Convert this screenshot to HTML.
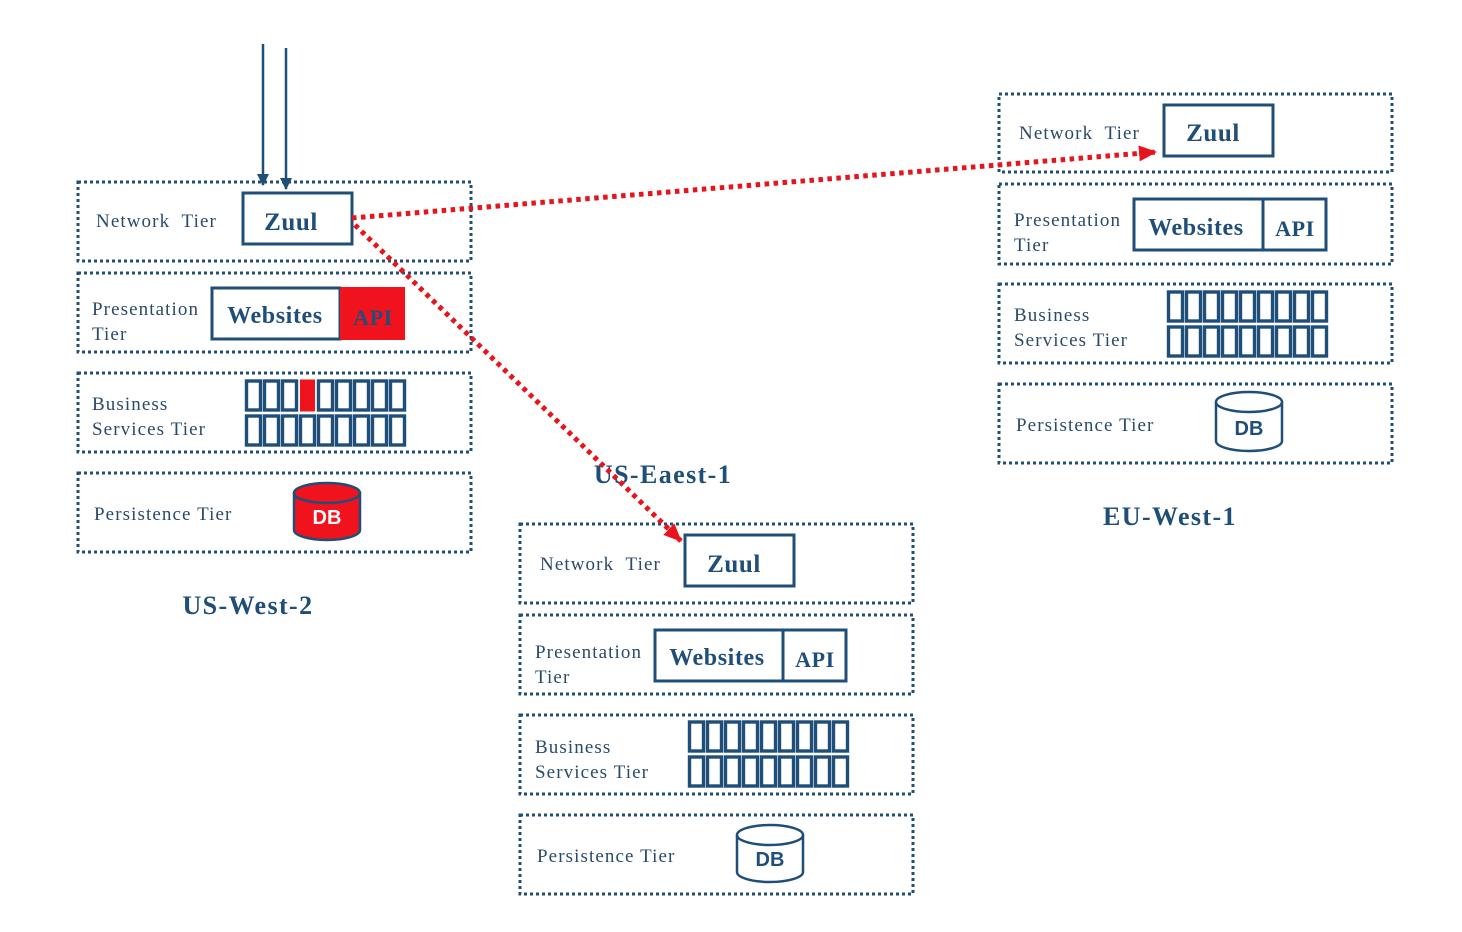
<!DOCTYPE html>
<html><head><meta charset="utf-8"><style>
html,body{margin:0;padding:0;background:#fff;}
svg{display:block;}
.tb{fill:none;stroke:#1f4e79;stroke-width:3;stroke-dasharray:3 3;}
.bx{fill:#fff;stroke:#1f4e79;stroke-width:3;}
.lbl{font-family:"Liberation Serif",serif;font-size:19px;fill:#2a4a6a;letter-spacing:1.1px;white-space:pre;}
.bold{font-family:"Liberation Serif",serif;font-weight:bold;fill:#1f4e79;letter-spacing:0.6px;}
.ttl{letter-spacing:1.4px;}
.cell{fill:none;stroke:#1f4e79;stroke-width:3.4;}
.db{font-family:"Liberation Sans",sans-serif;font-weight:bold;font-size:20px;}
</style></head><body>
<svg width="1462" height="932" viewBox="0 0 1462 932" xmlns="http://www.w3.org/2000/svg">
<defs>
<marker id="ab" markerWidth="12" markerHeight="12" refX="11" refY="6" orient="auto" markerUnits="userSpaceOnUse"><path d="M0,0 L12,6 L0,12z" fill="#1f4e79"/></marker>
<marker id="ar" markerWidth="18" markerHeight="16" refX="17" refY="8" orient="auto" markerUnits="userSpaceOnUse"><path d="M0,0 L18,8 L0,16z" fill="#e8141c"/></marker>
</defs>

<!-- US-West-2 -->
<g transform="translate(78,182)">
<rect class="tb" x="0" y="0" width="393" height="79"/>
<rect class="tb" x="0" y="91" width="393" height="79"/>
<rect class="tb" x="0" y="191" width="393" height="79"/>
<rect class="tb" x="0" y="291" width="393" height="79"/>
<text class="lbl" x="18" y="45">Network  Tier</text>
<rect class="bx" x="165" y="11" width="109" height="51"/>
<text class="bold" x="213" y="48" font-size="25" text-anchor="middle">Zuul</text>
<text class="lbl" x="14" y="133">Presentation</text>
<text class="lbl" x="14" y="158">Tier</text>
<rect class="bx" x="134" y="106" width="128" height="51"/>
<rect x="262" y="105" width="65" height="53" fill="#f0131e"/>
<text class="bold" x="197" y="141" font-size="24" text-anchor="middle">Websites</text>
<text class="bold" x="295" y="143" font-size="22" text-anchor="middle" fill="#a02030">API</text>
<text class="lbl" x="14" y="228">Business</text>
<text class="lbl" x="14" y="253">Services Tier</text>
<g>
<rect class="cell" x="168.5" y="199" width="14" height="29"/><rect class="cell" x="186.5" y="199" width="14" height="29"/><rect class="cell" x="204.5" y="199" width="14" height="29"/>
<rect x="222" y="197.5" width="15" height="32" fill="#f0131e"/>
<rect class="cell" x="240.5" y="199" width="14" height="29"/><rect class="cell" x="258.5" y="199" width="14" height="29"/><rect class="cell" x="276.5" y="199" width="14" height="29"/><rect class="cell" x="294.5" y="199" width="14" height="29"/><rect class="cell" x="312.5" y="199" width="14" height="29"/>
</g>
<g transform="translate(0,35)">
<rect class="cell" x="168.5" y="199" width="14" height="29"/><rect class="cell" x="186.5" y="199" width="14" height="29"/><rect class="cell" x="204.5" y="199" width="14" height="29"/><rect class="cell" x="222.5" y="199" width="14" height="29"/><rect class="cell" x="240.5" y="199" width="14" height="29"/><rect class="cell" x="258.5" y="199" width="14" height="29"/><rect class="cell" x="276.5" y="199" width="14" height="29"/><rect class="cell" x="294.5" y="199" width="14" height="29"/><rect class="cell" x="312.5" y="199" width="14" height="29"/>
</g>
<text class="lbl" x="16" y="338">Persistence Tier</text>
<path d="M216,311 L216,348 A33,10 0 0 0 282,348 L282,311" fill="#f0131e" stroke="#1f4e79" stroke-width="2.5"/>
<ellipse cx="249" cy="311" rx="33" ry="10" fill="#f0131e" stroke="#1f4e79" stroke-width="2.5"/>
<text class="db" x="249" y="342" text-anchor="middle" fill="#fff">DB</text>
</g>
<text class="bold ttl" x="248" y="614" font-size="26" text-anchor="middle">US-West-2</text>

<!-- EU-West-1 -->
<g transform="translate(999,94)">
<rect class="tb" x="0" y="0" width="393" height="78"/>
<rect class="tb" x="0" y="90" width="393" height="80"/>
<rect class="tb" x="0" y="190" width="393" height="79"/>
<rect class="tb" x="0" y="290" width="393" height="79"/>
<text class="lbl" x="20" y="45">Network  Tier</text>
<rect class="bx" x="165" y="11" width="109" height="51"/>
<text class="bold" x="214" y="47" font-size="25" text-anchor="middle">Zuul</text>
<text class="lbl" x="15" y="132">Presentation</text>
<text class="lbl" x="15" y="157">Tier</text>
<rect class="bx" x="135" y="105" width="192" height="51"/>
<line x1="264" y1="105" x2="264" y2="156" stroke="#1f4e79" stroke-width="3"/>
<text class="bold" x="197" y="141" font-size="24" text-anchor="middle">Websites</text>
<text class="bold" x="296" y="142" font-size="22" text-anchor="middle">API</text>
<text class="lbl" x="15" y="227">Business</text>
<text class="lbl" x="15" y="252">Services Tier</text>
<g transform="translate(1,-1)">
<rect class="cell" x="168.5" y="199" width="14" height="29"/><rect class="cell" x="186.5" y="199" width="14" height="29"/><rect class="cell" x="204.5" y="199" width="14" height="29"/><rect class="cell" x="222.5" y="199" width="14" height="29"/><rect class="cell" x="240.5" y="199" width="14" height="29"/><rect class="cell" x="258.5" y="199" width="14" height="29"/><rect class="cell" x="276.5" y="199" width="14" height="29"/><rect class="cell" x="294.5" y="199" width="14" height="29"/><rect class="cell" x="312.5" y="199" width="14" height="29"/>
</g>
<g transform="translate(1,34)">
<rect class="cell" x="168.5" y="199" width="14" height="29"/><rect class="cell" x="186.5" y="199" width="14" height="29"/><rect class="cell" x="204.5" y="199" width="14" height="29"/><rect class="cell" x="222.5" y="199" width="14" height="29"/><rect class="cell" x="240.5" y="199" width="14" height="29"/><rect class="cell" x="258.5" y="199" width="14" height="29"/><rect class="cell" x="276.5" y="199" width="14" height="29"/><rect class="cell" x="294.5" y="199" width="14" height="29"/><rect class="cell" x="312.5" y="199" width="14" height="29"/>
</g>
<text class="lbl" x="17" y="337">Persistence Tier</text>
<path d="M217,308 L217,347 A33,10 0 0 0 283,347 L283,308" fill="#fff" stroke="#1f4e79" stroke-width="2.5"/>
<ellipse cx="250" cy="308" rx="33" ry="10" fill="#fff" stroke="#1f4e79" stroke-width="2.5"/>
<text class="db" x="250" y="341" text-anchor="middle" fill="#1f4e79">DB</text>
</g>
<text class="bold ttl" x="1170" y="525" font-size="26" text-anchor="middle">EU-West-1</text>

<!-- US-East-1 -->
<text class="bold ttl" x="663" y="483" font-size="26" text-anchor="middle">US-Eaest-1</text>
<g transform="translate(520,524)">
<rect class="tb" x="0" y="0" width="393" height="79"/>
<rect class="tb" x="0" y="91" width="393" height="79"/>
<rect class="tb" x="0" y="191" width="393" height="79"/>
<rect class="tb" x="0" y="291" width="393" height="79"/>
<text class="lbl" x="20" y="46">Network  Tier</text>
<rect class="bx" x="165" y="11" width="109" height="51"/>
<text class="bold" x="214" y="48" font-size="25" text-anchor="middle">Zuul</text>
<text class="lbl" x="15" y="134">Presentation</text>
<text class="lbl" x="15" y="159">Tier</text>
<rect class="bx" x="135" y="106" width="191" height="51"/>
<line x1="263" y1="106" x2="263" y2="157" stroke="#1f4e79" stroke-width="3"/>
<text class="bold" x="197" y="141" font-size="24" text-anchor="middle">Websites</text>
<text class="bold" x="295" y="143" font-size="22" text-anchor="middle">API</text>
<text class="lbl" x="15" y="229">Business</text>
<text class="lbl" x="15" y="254">Services Tier</text>
<g transform="translate(1,-1)">
<rect class="cell" x="168.5" y="199" width="14" height="29"/><rect class="cell" x="186.5" y="199" width="14" height="29"/><rect class="cell" x="204.5" y="199" width="14" height="29"/><rect class="cell" x="222.5" y="199" width="14" height="29"/><rect class="cell" x="240.5" y="199" width="14" height="29"/><rect class="cell" x="258.5" y="199" width="14" height="29"/><rect class="cell" x="276.5" y="199" width="14" height="29"/><rect class="cell" x="294.5" y="199" width="14" height="29"/><rect class="cell" x="312.5" y="199" width="14" height="29"/>
</g>
<g transform="translate(1,34)">
<rect class="cell" x="168.5" y="199" width="14" height="29"/><rect class="cell" x="186.5" y="199" width="14" height="29"/><rect class="cell" x="204.5" y="199" width="14" height="29"/><rect class="cell" x="222.5" y="199" width="14" height="29"/><rect class="cell" x="240.5" y="199" width="14" height="29"/><rect class="cell" x="258.5" y="199" width="14" height="29"/><rect class="cell" x="276.5" y="199" width="14" height="29"/><rect class="cell" x="294.5" y="199" width="14" height="29"/><rect class="cell" x="312.5" y="199" width="14" height="29"/>
</g>
<text class="lbl" x="17" y="338">Persistence Tier</text>
<path d="M217,311 L217,348 A33,10 0 0 0 283,348 L283,311" fill="#fff" stroke="#1f4e79" stroke-width="2.5"/>
<ellipse cx="250" cy="311" rx="33" ry="10" fill="#fff" stroke="#1f4e79" stroke-width="2.5"/>
<text class="db" x="250" y="342" text-anchor="middle" fill="#1f4e79">DB</text>
</g>

<!-- incoming arrows -->
<line x1="263" y1="44" x2="263" y2="185" stroke="#1f4e79" stroke-width="2.5" marker-end="url(#ab)"/>
<line x1="286" y1="48" x2="286" y2="189" stroke="#1f4e79" stroke-width="2.5" marker-end="url(#ab)"/>

<!-- failover red dotted arrows -->
<line x1="352" y1="218" x2="1156" y2="152" stroke="#e8141c" stroke-width="5" stroke-dasharray="4.5 4.5" marker-end="url(#ar)"/>
<line x1="355" y1="225" x2="681" y2="541" stroke="#e8141c" stroke-width="5" stroke-dasharray="4.5 4.5" marker-end="url(#ar)"/>
</svg>
</body></html>
